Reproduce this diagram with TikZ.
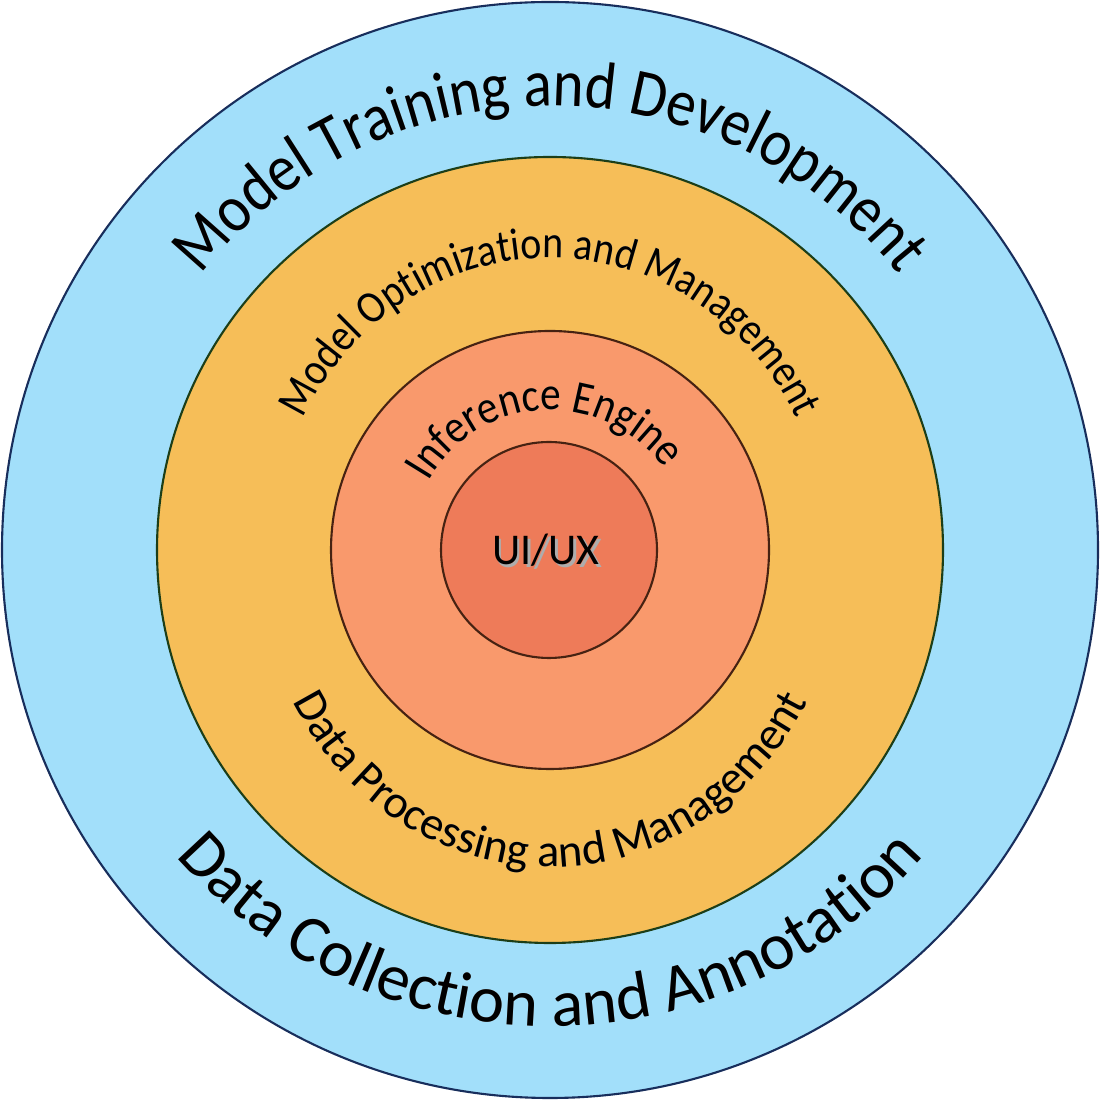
\documentclass[tikz,border=0pt]{standalone}
\usepackage{fontspec}
\setmainfont{Carlito}
\newfontfamily\archfont[FakeStretch=0.88]{Carlito}
\usetikzlibrary{decorations.text}

\definecolor{skyring}{RGB}{162,223,250}
\definecolor{amberring}{RGB}{246,190,88}
\definecolor{salmonring}{RGB}{249,153,108}
\definecolor{corering}{RGB}{238,123,89}
\definecolor{navyline}{RGB}{24,46,92}
\definecolor{greenline}{RGB}{28,62,24}
\definecolor{brownline}{RGB}{70,34,18}

\tikzset{
  ring/.style={line width=0.6pt},
  arctext/.style={decorate, decoration={text along path, text align=center, text={#1}}}
}

\begin{document}
\begin{tikzpicture}
\useasboundingbox (0,0) rectangle (11,11);
\coordinate (c) at (5.5,5.5);

% the rings, outside in
\draw[ring, draw=navyline, fill=skyring] (c) circle[radius=5.48];
\draw[ring, draw=greenline, fill=amberring] (c) circle[radius=3.93];
\draw[ring, draw=brownline, fill=salmonring] (c) circle[radius=2.19];
\draw[ring, draw=brownline, fill=corering] (5.49,5.5) circle[radius=1.08];

% labels: grey shadow first, then the black text
\foreach \off/\ink in {0.025/black!32, 0/black}{
\begin{scope}[xshift=\off cm, yshift=-\off cm]
  \path[arctext={|\color{\ink}\archfont\fontsize{19}{22}\selectfont|Model Training and Development}]
    (c) ++(178:4.44) arc[start angle=178, end angle=2, radius=4.44];
  \path[arctext={|\color{\ink}\archfont\fontsize{12.9}{15}\selectfont|Model Optimization and Management}]
    (c) ++(178:2.76 and 2.92) arc[start angle=178, end angle=2, x radius=2.76, y radius=2.92];
  \path[arctext={|\color{\ink}\archfont\fontsize{13.3}{15}\selectfont|Inference Engine}]
    (c) ++(181:1.40) arc[start angle=181, end angle=5, radius=1.40];
  \path[arctext={|\color{\ink}\fontsize{13.2}{16}\selectfont|Data Processing and Management}]
    (c) ++(182:2.93 and 3.17) arc[start angle=182, end angle=358, x radius=2.93, y radius=3.17];
  \path[arctext={|\color{\ink}\fontsize{18.9}{22}\selectfont|Data Collection and Annotation}]
    (c) ++(182:4.88 and 4.76) arc[start angle=182, end angle=358, x radius=4.88, y radius=4.76];
  \node[anchor=base, text=\ink, font=\fontsize{12.5}{14}\selectfont] (ui) at (5.46,5.35) {UI/UX};
\end{scope}
}
\end{tikzpicture}
\end{document}
